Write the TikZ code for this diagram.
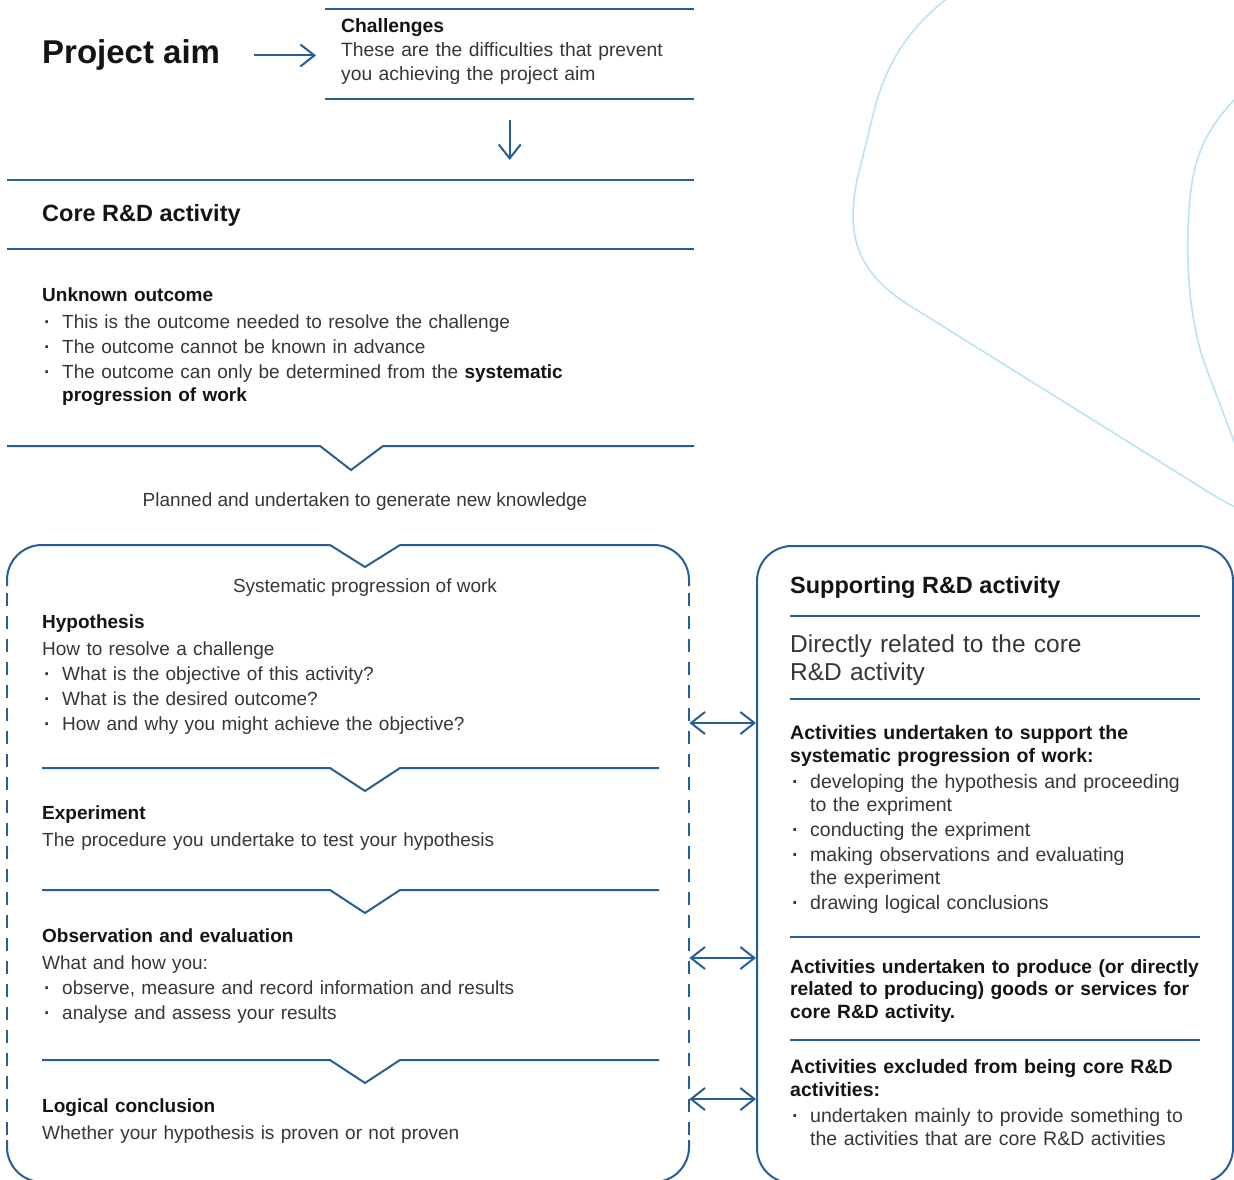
\documentclass[tikz,border=0pt]{standalone}
\usepackage{fontspec}
\setmainfont{Liberation Sans}
\usetikzlibrary{arrows.meta,positioning,calc}
\definecolor{rdBlue}{RGB}{38,94,152}
\definecolor{rdSky}{RGB}{184,228,246}
\definecolor{rdText}{RGB}{55,55,55}
\definecolor{rdHead}{RGB}{20,20,20}
\newcommand{\bdot}{\makebox[20pt][l]{\hspace{2pt}{\bfseries\char"00B7}}}
\newcommand{\indt}{\hspace*{20pt}}
\newcommand{\rdhd}{\bfseries\color{rdHead}}

\begin{document}
\begin{tikzpicture}[x=1pt,y=-1pt,
  bl/.style={draw=rdBlue,line width=2pt},
  dsh/.style={bl,dash pattern=on 13pt off 10pt},
  arr/.style={rdBlue,line width=2pt,-{Straight Barb[length=14pt,width=22pt]}},
  dbl/.style={rdBlue,line width=2pt,{Straight Barb[length=14pt,width=22pt]}-{Straight Barb[length=14pt,width=22pt]}},
  deco/.style={draw=rdSky,line width=1.6pt},
  frame/.style={inner sep=0pt,anchor=north west},
  body/.style={anchor=base west,inner sep=0pt,text width=#1,align=left,
               text=rdText,font=\fontsize{19}{25}\selectfont},
  body/.default=620pt,
  side/.style={body=430pt,font=\fontsize{19.5}{23}\selectfont},
  ttl/.style={anchor=base west,inner sep=0pt,text=rdHead,font=\bfseries\fontsize{23.5}{28}\selectfont}
]
  \useasboundingbox (0,0) rectangle (1234,1180);
  \fill[white] (0,0) rectangle (1234,1180);
  \clip (0,0) rectangle (1234,1180);
  % decorative outlines
  \draw[deco] (948,-2) .. controls (905,30) and (885,70) .. (875,107) -- (857,180)
        .. controls (845,240) and (860,275) .. (912,307) -- (1210,493)
        .. controls (1220,499) and (1228,504) .. (1238,508);
  \draw[deco] (1238,96) .. controls (1200,135) and (1190,165) .. (1188,230)
        .. controls (1186,290) and (1195,340) .. (1207,370) -- (1238,452);
  % aim and challenges
  \node[anchor=base west,inner sep=0pt,text=rdHead,font=\bfseries\fontsize{33}{38}\selectfont] (aim) at (42,64) {Project aim};
  \node[frame,minimum width=369pt,minimum height=90pt] (chalbox) at (325,9) {};
  \draw[bl] (chalbox.north west) -- (chalbox.north east);
  \draw[bl] (chalbox.south west) -- (chalbox.south east);
  \node[body=360pt,font=\fontsize{19.3}{24}\selectfont] (chal) at (341,33)
    {{\rdhd Challenges}\\These are the difficulties that prevent\\you achieving the project aim};
  \draw[arr,shorten <=34pt,shorten >=9pt] (aim.east) -- (aim.east -| chalbox.west);
  % core activity
  \node[frame,minimum width=687pt,minimum height=69pt] (corebox) at (7,180) {};
  \draw[bl] (corebox.north west) -- (corebox.north east);
  \draw[bl] (corebox.south west) -- (corebox.south east);
  \draw[arr,shorten <=21pt,shorten >=20pt] (chalbox.south) -- (chalbox.south |- corebox.north);
  \node[ttl] (core) at (42,221) {Core R\&D activity};
  \node[body] (unk) at (42,301)
    {{\rdhd Unknown outcome}\\[2pt]
     \bdot This is the outcome needed to resolve the challenge\\
     \bdot The outcome cannot be known in advance\\
     \bdot The outcome can only be determined from the {\rdhd systematic}\\[-2pt]
     \indt{\rdhd progression of work}};
  \draw[bl] (7,446) -- (320,446) -- (351,470) -- (383,446) -- (694,446);
  \node[anchor=base,inner sep=0pt,text=rdText,font=\fontsize{19}{25}\selectfont] (plan) at (365,506)
    {Planned and undertaken to generate new knowledge};
  % systematic progression box
  \node[frame,minimum width=682pt,minimum height=637pt] (sysbox) at (7,545) {};
  \draw[bl,rounded corners=35pt] (7,586) -- (7,545) -- (330,545);
  \draw[bl] (330,545) -- (365,567) -- (400,545);
  \draw[bl,rounded corners=35pt] (400,545) -- (689,545) -- (689,586);
  \draw[dsh] (7,593) -- (7,1140);
  \draw[dsh] (689,593) -- (689,1140);
  \draw[bl,rounded corners=35pt] (7,1140) -- (7,1182) -- (689,1182) -- (689,1140);
  \node[anchor=base,inner sep=0pt,text=rdText,font=\fontsize{19}{25}\selectfont] (systt) at (365,592)
    {Systematic progression of work};
  \node[body] (hyp) at (42,628)
    {{\rdhd Hypothesis}\\[2pt]
     How to resolve a challenge\\
     \bdot What is the objective of this activity?\\
     \bdot What is the desired outcome?\\
     \bdot How and why you might achieve the objective?};
  \foreach \y in {768,890,1060}
    \draw[bl] (42,\y) -- (330,\y) -- (365,\y+23) -- (400,\y) -- (659,\y);
  \node[body] (exp) at (42,819)
    {{\rdhd Experiment}\\[2pt]
     The procedure you undertake to test your hypothesis};
  \node[body] (obs) at (42,942)
    {{\rdhd Observation and evaluation}\\[2pt]
     What and how you:\\
     \bdot observe, measure and record information and results\\
     \bdot analyse and assess your results};
  \node[body] (con) at (42,1112)
    {{\rdhd Logical conclusion}\\[2pt]
     Whether your hypothesis is proven or not proven};
  % supporting activity box
  \node[frame,bl,rounded corners=35pt,minimum width=476pt,minimum height=637pt] (sup) at (756,545) {};
  \node[ttl] (supt) at (790,593) {Supporting R\&D activity};
  \foreach \y in {616,699,937,1040}
    \draw[bl] (790,\y) -- (1200,\y);
  \node[body=430pt,font=\fontsize{24.5}{28}\selectfont] (rel) at (790,652)
    {Directly related to the core\\R\&D activity};
  \node[side] (act1) at (790,739)
    {{\rdhd Activities undertaken to support the\\systematic progression of work:}\\[3pt]
     \bdot developing the hypothesis and proceeding\\
     \indt to the expriment\\[2pt]
     \bdot conducting the expriment\\[2pt]
     \bdot making observations and evaluating\\
     \indt the experiment\\[2pt]
     \bdot drawing logical conclusions};
  \node[side,font=\bfseries\fontsize{19.2}{22.5}\selectfont,text=rdHead] (act2) at (790,973)
    {Activities undertaken to produce (or directly\\related to producing) goods or services for\\core R\&D activity.};
  \node[side] (act3) at (790,1073)
    {{\rdhd Activities excluded from being core R\&D\\activities:}\\[3pt]
     \bdot undertaken mainly to provide something to\\
     \indt the activities that are core R\&D activities};
  % links between the two boxes
  \coordinate (l1) at (0,723);
  \coordinate (l2) at (0,958);
  \coordinate (l3) at (0,1099);
  \foreach \c in {l1,l2,l3}
    \draw[dbl] (sysbox.east |- \c) -- (sup.west |- \c);
\end{tikzpicture}
\end{document}
